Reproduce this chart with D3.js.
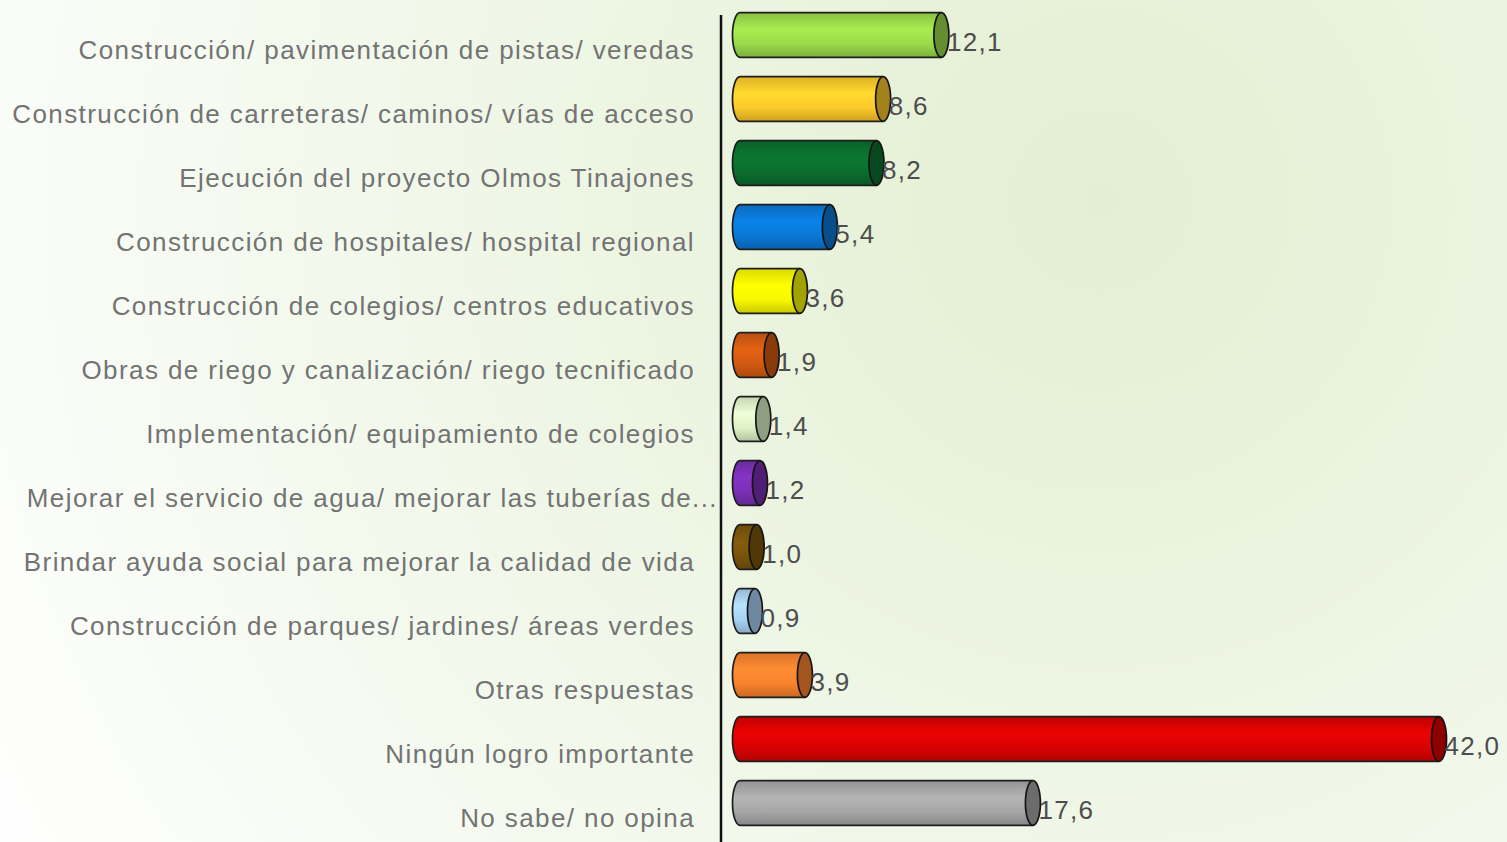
<!DOCTYPE html>
<html>
<head>
<meta charset="utf-8">
<script src="https://cdn.jsdelivr.net/npm/d3@7"></script>
<style>
  html, body { margin: 0; padding: 0; overflow: hidden; }
  svg { display: block; }
  text { font-family: "Liberation Sans", Arial, sans-serif; }
</style>
</head>
<body>
<svg id="chart"></svg>
<script>
let categories = [
    "Construcción/ pavimentación de pistas/ veredas",
    "Construcción de carreteras/ caminos/ vías de acceso",
    "Ejecución del proyecto Olmos Tinajones",
    "Construcción de hospitales/ hospital regional",
    "Construcción de colegios/ centros educativos",
    "Obras de riego y canalización/ riego tecnificado",
    "Implementación/ equipamiento de colegios",
    "Mejorar el servicio de agua/ mejorar las tuberías de...",
    "Brindar ayuda social para mejorar la calidad de vida",
    "Construcción de parques/ jardines/ áreas verdes",
    "Otras respuestas",
    "Ningún logro importante",
    "No sabe/ no opina"
];

let values = [12.1, 8.6, 8.2, 5.4, 3.6, 1.9, 1.4, 1.2, 1.0, 0.9, 3.9, 42.0, 17.6];

let barColors = [
    "#9ada4a", "#fcc82a", "#0a6e2e", "#0a78d6", "#f8f800", "#d25a12", "#dcf2c6",
    "#7a30b4", "#7a540a", "#a8d0f4", "#f8822e", "#d80202", "#a6a6a6"
];

function createChart() {
    let w = 1507, h = 842;
    let capRx = 7.5;
    let fmt = d => d.toFixed(1).replace(".", ",");

    let svg = d3.select("#chart")
        .attr("width", w)
        .attr("height", h);

    let defs = svg.append("defs");

    // soft green background
    let bg = defs.append("radialGradient")
        .attr("id", "bg")
        .attr("gradientUnits", "userSpaceOnUse")
        .attr("cx", 1100).attr("cy", 200).attr("r", 1300);
    bg.append("stop").attr("offset", 0).attr("stop-color", "#e3efd2");
    bg.append("stop").attr("offset", 0.5).attr("stop-color", "#f0f7e8");
    bg.append("stop").attr("offset", 1).attr("stop-color", "#ffffff");

    svg.append("rect")
        .attr("width", w).attr("height", h)
        .attr("fill", "url(#bg)");

    let data = categories.map((c, i) => ({cat: c, value: values[i], color: barColors[i], i: i}));

    // one vertical gradient per bar colour, to fake the cylinder shading
    data.forEach(d => {
        let base = d3.color(d.color);
        let g = defs.append("linearGradient")
            .attr("id", "grad" + d.i)
            .attr("x1", 0).attr("y1", 0).attr("x2", 0).attr("y2", 1);
        g.append("stop").attr("offset", 0).attr("stop-color", base.darker(0.35));
        g.append("stop").attr("offset", 0.38).attr("stop-color", base.brighter(0.25));
        g.append("stop").attr("offset", 0.7).attr("stop-color", base);
        g.append("stop").attr("offset", 1).attr("stop-color", base.darker(0.6));
    });

    let x = d3.scaleLinear()
        .domain([0, 42])
        .range([740, 1439]);

    let y = d3.scaleBand()
        .domain(categories)
        .range([3, 835])
        .paddingInner(0.3)
        .paddingOuter(0.15);

    let bh = y.bandwidth();
    let ry = bh / 2;

    // category labels
    let axis = d3.axisLeft(y).tickSize(0).tickPadding(26);
    let ax = svg.append("g")
        .attr("transform", "translate(721,0)")
        .call(axis);
    ax.select(".domain").remove();
    ax.selectAll("text")
        .attr("font-family", "Liberation Sans, Arial, sans-serif")
        .attr("font-size", 26)
        .attr("letter-spacing", 1.4)
        .attr("fill", "#737373")
        .attr("dy", 23.5)
        .attr("x", d => d.endsWith("...") ? -3 : -26);

    svg.append("line")
        .attr("x1", 721).attr("x2", 721)
        .attr("y1", 15).attr("y2", h)
        .attr("stroke", "#111")
        .attr("stroke-width", 2.5);

    let bars = svg.append("g")
        .selectAll("g")
        .data(data)
        .enter().append("g");

    // body: rounded on the left, open on the right (cap drawn over it)
    bars.append("path")
        .attr("fill", d => `url(#grad${d.i})`)
        .attr("stroke", "#1e1e1e")
        .attr("stroke-width", 1.7)
        .attr("d", d => {
            let x0 = x(0), x1 = x(d.value), yt = y(d.cat), yb = yt + bh;
            return `M${x1},${yt} L${x0},${yt} A${capRx},${ry} 0 0 0 ${x0},${yb} L${x1},${yb}`;
        });

    bars.append("ellipse")
        .attr("cx", d => x(d.value))
        .attr("cy", d => y(d.cat) + ry)
        .attr("rx", capRx)
        .attr("ry", ry)
        .attr("fill", d => d3.color(d.color).darker(1.2))
        .attr("stroke", "#151515")
        .attr("stroke-width", 1.7);

    bars.append("text")
        .attr("x", d => x(d.value) + capRx - 2)
        .attr("y", d => y(d.cat) + ry + 16)
        .attr("font-size", 26)
        .attr("letter-spacing", 1.3)
        .attr("fill", "#4d4d4d")
        .text(d => fmt(d.value));
}

window.onload = function() {
    createChart();
};
</script>
</body>
</html>
